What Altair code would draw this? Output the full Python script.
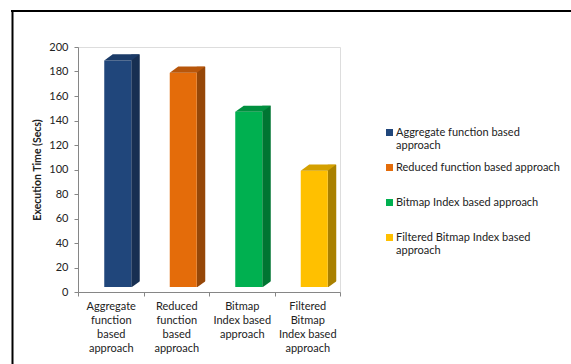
import altair as alt
import pandas as pd

# ---- data ----
categories = [
    "Aggregate function based approach",
    "Reduced function based approach",
    "Bitmap Index based approach",
    "Filtered Bitmap Index based approach",
]
values = [185, 175, 143, 95]
x_label_lines = [
    ["Aggregate", "function", "based", "approach"],
    ["Reduced", "function", "based", "approach"],
    ["Bitmap", "Index based", "approach"],
    ["Filtered", "Bitmap", "Index based", "approach"],
]
legend_label_lines = [
    ["Aggregate function based", "approach"],
    ["Reduced function based approach", ""],
    ["Bitmap Index based approach", ""],
    ["Filtered Bitmap Index based", "approach"],
]
front_colors = ["#20467B", "#E46C0A", "#00B050", "#FFC000"]
side_colors = ["#172F52", "#964708", "#007532", "#A98000"]
top_colors = ["#1B3B68", "#B8560A", "#00903F", "#D4A000"]
y_ticks = list(range(0, 201, 20))

FONT = "Lato"
TEXT = "#222222"
AXIS = "#868686"

df = pd.DataFrame({
    "cat": categories,
    "value": values,
    "side": side_colors,
    "top": top_colors,
})


def lookup_expr(keys, lines):
    parts = []
    for k, ls in zip(keys, lines):
        arr = "[" + ",".join("'" + s + "'" for s in ls) + "]"
        parts.append("'" + k + "':" + arr)
    return "{" + ",".join(parts) + "}[datum.value]"


x_enc = alt.X(
    "cat:N",
    sort=categories,
    scale=alt.Scale(paddingInner=0, paddingOuter=0),
    axis=alt.Axis(
        title=None,
        labelAngle=0,
        labelExpr=lookup_expr(categories, x_label_lines),
        labelBaseline="top",
        labelLineHeight=14,
        labelPadding=4,
        tickBand="extent",
        tickSize=4,
        tickColor=AXIS,
        domainColor=AXIS,
        labelFont=FONT,
        labelFontSize=11,
        labelColor=TEXT,
    ),
)
y_scale = alt.Scale(domain=[0, 200], nice=False)
y_axis = alt.Axis(
    title="Execution Time (Secs)",
    values=y_ticks,
    labelOverlap=False,
    grid=False,
    tickSize=4,
    tickColor=AXIS,
    domainColor=AXIS,
    labelPadding=6,
    labelFont=FONT,
    labelFontSize=11,
    labelColor=TEXT,
    titleFont=FONT,
    titleFontSize=10.5,
    titleFontWeight="bold",
    titleColor=TEXT,
    titlePadding=6,
)
y_enc = alt.Y("value:Q", scale=y_scale, axis=y_axis)

base = alt.Chart(df)

# side face (darker), drawn behind
side = base.mark_bar(width=8.5, xOffset=24.75, yOffset=-11, y2Offset=-5).encode(
    x=x_enc, y=y_enc, y2=alt.datum(0), color=alt.Color("side:N", scale=None)
)

# white triangle trimming the bottom of the side face
trim = base.mark_point(
    shape="M -0.95 0.75 L 1.15 0.75 L 1.15 -0.7 Z",
    size=81, xOffset=24.75, yOffset=-8, filled=True, opacity=1, strokeWidth=0,
    color="white",
).encode(x=x_enc, y=alt.Y("z:Q", scale=y_scale, axis=y_axis)).transform_calculate(z="0")

# front face
front = base.mark_bar(width=27, xOffset=7, yOffset=-5, y2Offset=-5).encode(
    x=x_enc,
    y=y_enc,
    y2=alt.datum(0),
    color=alt.Color(
        "cat:N",
        sort=categories,
        scale=alt.Scale(domain=categories, range=front_colors),
        legend=alt.Legend(
            title=None,
            orient="none",
            legendX=306,
            legendY=80,
            symbolType="square",
            symbolSize=49,
            symbolStrokeWidth=0,
            labelExpr=lookup_expr(categories, legend_label_lines),
            labelBaseline="middle",
            labelFont=FONT,
            labelFontSize=11,
            labelColor=TEXT,
            labelLimit=300,
            rowPadding=10,
            padding=0,
            labelOffset=1,
        ),
    ),
)

# top face (parallelogram)
top = base.mark_point(
    shape="M -0.986 0.1667 L 0.514 0.1667 L 0.986 -0.1667 L -0.514 -0.1667 Z",
    size=1296, xOffset=11.25, yOffset=-8, filled=True, opacity=1, strokeWidth=0,
).encode(x=x_enc, y=y_enc, color=alt.Color("top:N", scale=None))

one = pd.DataFrame({"a": [0]})
frame_top = alt.Chart(one).mark_rule(color="black", strokeWidth=2).encode(
    x=alt.value(-67), x2=alt.value(500), y=alt.value(-36)
)
frame_left = alt.Chart(one).mark_rule(color="black", strokeWidth=2).encode(
    x=alt.value(-65.5), y=alt.value(-37), y2=alt.value(330)
)

chart = alt.layer(side, trim, front, top, frame_top, frame_left).properties(
    width=262,
    height=245,
    autosize=alt.AutoSizeParams(type="none"),
    padding={"left": 78, "top": 47, "right": 231, "bottom": 72},
).configure_view(stroke=None).configure(background="white")

chart.save("out.html", embed_options={"renderer": "svg", "actions": False})
